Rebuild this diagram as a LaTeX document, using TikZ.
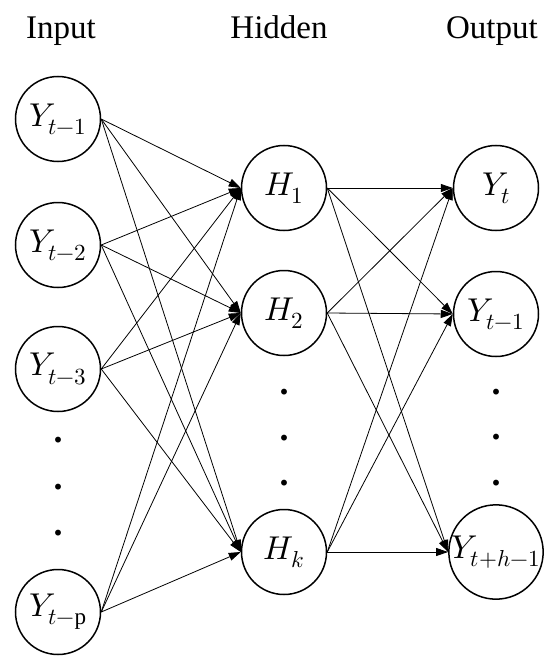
\documentclass[tikz,border=0pt]{standalone}
\usepackage{fontspec}
\usepackage{unicode-math}
\setmainfont{Liberation Serif}
\setmathfont{Latin Modern Math}
\usetikzlibrary{arrows.meta}
\begin{document}
\begin{tikzpicture}[x=1pt,y=-1pt,
  neuron/.style={draw,circle,line width=1.5pt,minimum size=85pt,inner sep=0pt,font=\fontsize{33}{36}\selectfont},
  conn/.style={line width=0.8pt,-{Triangle[length=12pt,width=8pt]}},
  title/.style={font=\fontsize{33}{38}\selectfont,anchor=base},
  vdot/.style={inner sep=0pt,font=\fontsize{36}{40}\selectfont\bfseries}]
\useasboundingbox[fill=white] (0,0) rectangle (550,666);
% titles
\node[title] (tin) at (61,39) {Input};
\node[title] (thid) at (279,39) {Hidden};
\node[title] (tout) at (492,39) {Output};
% input layer
\node[neuron] (i1) at (58,119) {$Y_{t-1}$};
\node[neuron] (i2) at (58,245) {$Y_{t-2}$};
\node[neuron] (i3) at (58,369) {$Y_{t-3}$};
\node[neuron] (ip) at (58,612) {$Y_{t-\mathrm{p}}$};
\node[vdot] (di1) at (58,440) {.};
\node[vdot] (di2) at (58,487) {.};
\node[vdot] (di3) at (58,533) {.};
% hidden layer
\node[neuron] (h1) at (284,188) {$H_1$};
\node[neuron] (h2) at (284,313) {$H_2$};
\node[neuron] (hk) at (284,552) {$H_k$};
\node[vdot] (dh1) at (284,392) {.};
\node[vdot] (dh2) at (284,438) {.};
\node[vdot] (dh3) at (284,483) {.};
% output layer
\node[neuron] (o1) at (496,188) {$Y_t$};
\node[neuron] (o2) at (496,314) {$Y_{t-1}$};
\node[neuron] (oh) at (496,552) {$Y_{t+h-1}$};
\node[vdot] (do1) at (496,392) {.};
\node[vdot] (do2) at (496,437) {.};
\node[vdot] (do3) at (496,483) {.};
% connectors
\foreach \s in {i1,i2,i3,ip}
  \foreach \t in {h1,h2,hk}
    \draw[conn] (\s.east) -- (\t.west);
\foreach \s in {h1,h2,hk}
  \foreach \t in {o1,o2,oh}
    \draw[conn] (\s.east) -- (\t.west);
\end{tikzpicture}
\end{document}
